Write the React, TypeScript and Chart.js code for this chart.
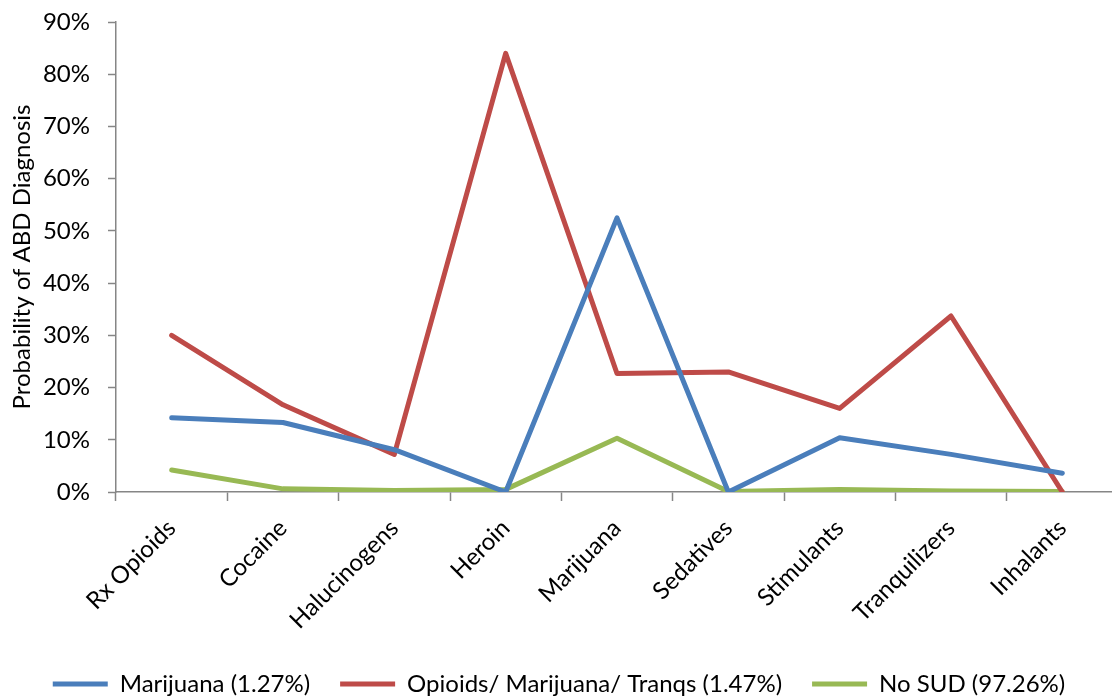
import React, { useEffect, useRef } from "react";
import { Chart, registerables } from "chart.js";

Chart.register(...registerables);

const categories = [
  "Rx Opioids",
  "Cocaine",
  "Halucinogens",
  "Heroin",
  "Marijuana",
  "Sedatives",
  "Stimulants",
  "Tranquilizers",
  "Inhalants",
];

const marijuanaClass = [14.2, 13.3, 8.1, 0.0, 52.5, 0.0, 10.4, 7.2, 3.6];
const opioidsMarijuanaTranqsClass = [30.0, 16.7, 7.2, 84.0, 22.7, 23.0, 16.0, 33.7, 0.0];
const noSudClass = [4.2, 0.6, 0.3, 0.5, 10.3, 0.1, 0.5, 0.2, 0.1];

const seriesNames = [
  "Marijuana (1.27%)",
  "Opioids/ Marijuana/ Tranqs (1.47%)",
  "No SUD (97.26%)",
];
const seriesColors = ["#4A7EBB", "#BE4B48", "#98B954"];

const yTicks = [0, 10, 20, 30, 40, 50, 60, 70, 80, 90];
const yTitle = "Probability of ABD Diagnosis";

const FONT = "Lato, 'Open Sans', sans-serif";
const AXIS_GRAY = "#868686";

const CANVAS_W = 1118;
const CANVAS_H = 706;
const LEGEND_H = 64;
const PLOT_TOP = 22;
const PLOT_BOTTOM = 492;

export default function App() {
  const canvasRef = useRef<HTMLCanvasElement | null>(null);

  useEffect(() => {
    const canvas = canvasRef.current;
    if (!canvas) return;
    const values = [marijuanaClass, opioidsMarijuanaTranqsClass, noSudClass];
    const chart = new Chart(canvas, {
      type: "line",
      data: {
        labels: categories,
        datasets: values.map((v, i) => ({
          label: seriesNames[i],
          data: v,
          borderColor: seriesColors[i],
          backgroundColor: seriesColors[i],
          borderWidth: 5,
          borderCapStyle: "round" as const,
          borderJoinStyle: "round" as const,
          pointRadius: 0,
          pointHoverRadius: 0,
          tension: 0,
          fill: false,
        })),
      },
      options: {
        responsive: false,
        animation: false,
        devicePixelRatio: 1,
        layout: { padding: { top: PLOT_TOP, right: 0, bottom: 0, left: 0 } },
        plugins: {
          tooltip: { enabled: false },
          legend: {
            position: "bottom",
            labels: {
              usePointStyle: true,
              pointStyle: "line",
              pointStyleWidth: 55,
              padding: 30,
              color: "#000",
              font: { family: FONT, size: 24 },
            },
          },
        },
        scales: {
          x: {
            type: "category",
            offset: true,
            grid: {
              display: true,
              offset: true,
              drawOnChartArea: false,
              drawTicks: true,
              tickLength: 9,
              tickColor: AXIS_GRAY,
              tickWidth: 1.5,
            },
            border: { display: true, color: AXIS_GRAY, width: 1.5 },
            ticks: {
              autoSkip: false,
              maxRotation: 45,
              minRotation: 45,
              padding: 13,
              color: "#000",
              font: { family: FONT, size: 24 },
            },
            afterFit: (scale: any) => {
              scale.height = CANVAS_H - PLOT_BOTTOM - LEGEND_H;
            },
          },
          y: {
            min: 0,
            max: 90,
            afterBuildTicks: (scale: any) => {
              scale.ticks = yTicks.map((value) => ({ value }));
            },
            grid: {
              display: true,
              drawOnChartArea: false,
              drawTicks: true,
              tickLength: 8,
              tickColor: AXIS_GRAY,
              tickWidth: 1.5,
            },
            border: { display: true, color: AXIS_GRAY, width: 1.5 },
            ticks: {
              padding: 18,
              color: "#000",
              font: { family: FONT, size: 24 },
              callback: (v: any) => `${v}%`,
            },
            title: {
              display: true,
              text: yTitle,
              color: "#000",
              padding: { top: 8, bottom: 0 },
              font: { family: FONT, size: 24 },
            },
            afterFit: (scale: any) => {
              scale.width = 116;
              scale.paddingTop = 0;
              scale.paddingBottom = 0;
            },
          },
        },
      },
    });
    return () => chart.destroy();
  }, []);

  return (
    <div
      style={{
        position: "absolute",
        left: 0,
        top: 0,
        width: 1112,
        height: 698,
        overflow: "hidden",
        background: "#fff",
      }}
    >
      <canvas
        ref={canvasRef}
        width={CANVAS_W}
        height={CANVAS_H}
        style={{ width: CANVAS_W, height: CANVAS_H, display: "block" }}
      />
    </div>
  );
}
